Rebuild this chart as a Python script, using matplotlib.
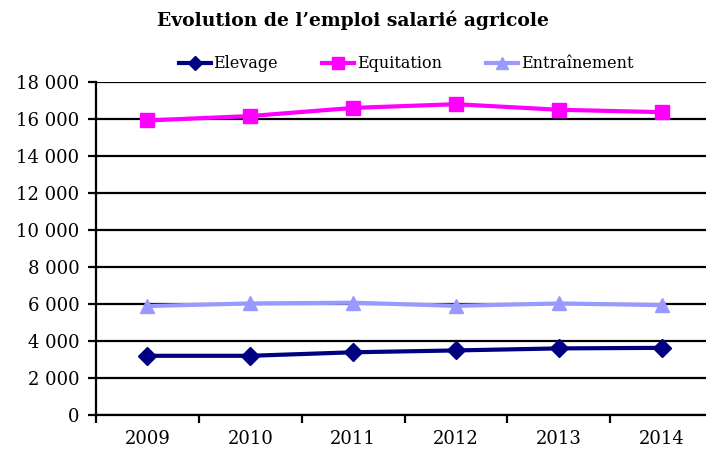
import matplotlib.pyplot as plt
from matplotlib.ticker import FixedLocator, FuncFormatter

years = ["2009", "2010", "2011", "2012", "2013", "2014"]
elevage = [3200, 3200, 3390, 3490, 3600, 3630]
equitation = [15920, 16160, 16600, 16800, 16500, 16370]
entrainement = [5890, 6030, 6070, 5900, 6030, 5940]

elevage_color = "#000080"
equitation_color = "#FF00FF"
entrainement_color = "#9999FF"

plt.rcParams["font.family"] = ["DejaVu Serif"]

fig = plt.figure(figsize=(7.06, 4.5), dpi=100)
ax = fig.add_axes([96 / 706, 35 / 450, 617 / 706, 333 / 450])

x = list(range(len(years)))
ax.plot(x, elevage, color=elevage_color, linewidth=3, marker="D",
        markersize=9, label="Elevage", clip_on=False)
ax.plot(x, equitation, color=equitation_color, linewidth=3, marker="s",
        markersize=10.5, label="Equitation", clip_on=False)
ax.plot(x, entrainement, color=entrainement_color, linewidth=3, marker="^",
        markersize=10.5, label="Entraînement", clip_on=False)

ax.set_xlim(-0.5, len(years) - 0.5)
ax.set_ylim(0, 18000)
ax.set_yticks(range(0, 18001, 2000))
ax.yaxis.set_major_formatter(FuncFormatter(lambda v, p: f"{int(v):,}".replace(",", " ")))
ax.yaxis.grid(True, color="black", linewidth=1.6)
ax.set_axisbelow(True)

ax.set_xticks(x)
ax.set_xticklabels(years)
ax.xaxis.set_minor_locator(FixedLocator([i - 0.5 for i in range(len(years) + 1)]))
ax.tick_params(axis="x", which="major", length=0, pad=11, labelsize=13)
ax.tick_params(axis="x", which="minor", length=6, width=1.6, direction="out")
ax.tick_params(axis="y", length=6, width=1.6, labelsize=13, pad=6)

for s in ["top", "right"]:
    ax.spines[s].set_visible(False)
for s in ["left", "bottom"]:
    ax.spines[s].set_linewidth(1.6)

fig.text(0.5, 1 - 20 / 450, "Evolution de l’emploi salarié agricole",
         ha="center", va="center", fontsize=13.5, fontweight="bold")
fig.legend(loc="center", bbox_to_anchor=(0.575, 1 - 64 / 450), ncol=3,
           frameon=False, fontsize=11.5, handlelength=2.0, handletextpad=0.15,
           columnspacing=2.8, markerscale=0.8)

fig.savefig("out.png", dpi=100)
